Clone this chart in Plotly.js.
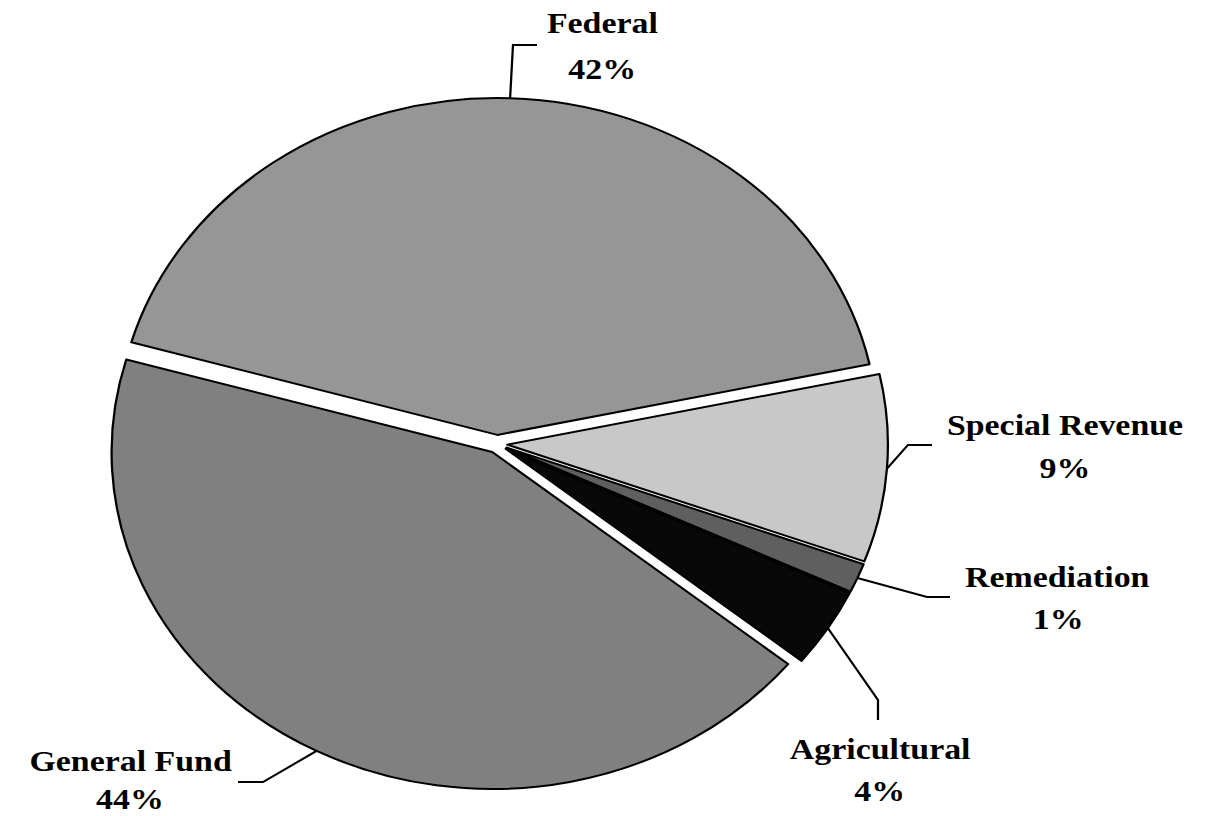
<!DOCTYPE html>
<html>
<head>
<meta charset="utf-8">
<script src="https://cdn.plot.ly/plotly-3.0.1.min.js"></script>
<style>
  html, body { margin: 0; padding: 0; background: #ffffff; overflow: hidden; }
  #chart { width: 1070px; height: 816px; transform: scaleX(1.1299); transform-origin: 0 0; }
</style>
</head>
<body>
<div id="chart"></div>
<script>
// ---- data ----
const labels = ['General Fund', 'Federal', 'Special Revenue', 'Remediation', 'Agricultural'];
const values = [43.6, 42.2, 9.0, 1.4, 3.8];
const colors = ['#808080', '#969696', '#c8c8c8', '#5f5f5f', '#080808'];

// ---- layout geometry (unscaled page px; page is stretched horizontally by KX) ----
const W = 1070, H = 816;
const KX = 1209 / W;
const ROT = 129;          // start angle of first slice, clockwise from 12 o'clock
const PULL = 0.027;
const CX = 497 / KX, CY = 444, R = 346;   // centre and outer reach (incl. pull)

// label placement: name centre y, percent centre y, text centre x, elbow point, leader end (reference px)
const labelPos = [
  { tx: 130,  ny: 760, py2: 798, ex: 263, ey: 782, fx: 238, fy: 782 },
  { tx: 602,  ny: 22,  py2: 68,  ex: 513, ey: 45,  fx: 537, fy: 45  },
  { tx: 1065, ny: 424, py2: 468, ex: 908, ey: 445, fx: 932, fy: 445 },
  { tx: 1058, ny: 576, py2: 618, ex: 927, ey: 597, fx: 950, fy: 597 },
  { tx: 880,  ny: 748, py2: 790, ex: 878, ey: 700, fx: 878, fy: 720 }
];

const total = values.reduce((a, b) => a + b, 0);
const px = x => x / W;          // unscaled px -> paper x
const py = y => 1 - y / H;      // px -> paper y
const labelFont = { family: 'Liberation Serif, Times New Roman, serif', size: 30, color: '#000000', weight: 'bold' };

const annotations = [];
const shapes = [];
let cum = 0;
values.forEach((v, i) => {
  const mid = (ROT + (cum + v / 2) / total * 360) * Math.PI / 180;
  cum += v;
  const sx = CX + R * Math.sin(mid);
  const sy = CY - R * Math.cos(mid);
  const p = labelPos[i];
  const ex = p.ex / KX, fx = p.fx / KX;
  shapes.push({
    type: 'path', xref: 'paper', yref: 'paper',
    path: `M ${px(sx)} ${py(sy)} L ${px(ex)} ${py(p.ey)} L ${px(fx)} ${py(p.fy)}`,
    line: { color: '#000000', width: 2 }
  });
  annotations.push({
    xref: 'paper', yref: 'paper',
    x: px(p.tx / KX), y: py(p.ny),
    xanchor: 'center', yanchor: 'middle',
    showarrow: false,
    text: labels[i],
    font: labelFont
  });
  annotations.push({
    xref: 'paper', yref: 'paper',
    x: px(p.tx / KX), y: py(p.py2),
    xanchor: 'center', yanchor: 'middle',
    showarrow: false,
    text: Math.round(v / total * 100) + '%',
    font: labelFont
  });
});

const trace = {
  type: 'pie',
  labels: labels,
  values: values,
  sort: false,
  direction: 'clockwise',
  rotation: ROT,
  pull: PULL,
  textinfo: 'none',
  hoverinfo: 'skip',
  marker: { colors: colors, line: { color: '#000000', width: 2 } },
  domain: {
    x: [(CX - R) / W, (CX + R) / W],
    y: [((H - CY) - R) / H, ((H - CY) + R) / H]
  }
};

const layout = {
  width: W, height: H,
  margin: { l: 0, r: 0, t: 0, b: 0 },
  paper_bgcolor: '#ffffff',
  plot_bgcolor: '#ffffff',
  showlegend: false,
  annotations: annotations,
  shapes: shapes
};

Plotly.newPlot('chart', [trace], layout, { staticPlot: true, displayModeBar: false });
</script>
</body>
</html>
